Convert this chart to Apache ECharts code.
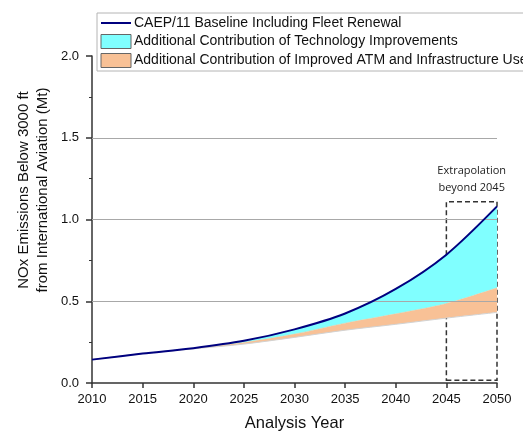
<!DOCTYPE html>
<html>
<head>
<meta charset="utf-8">
<script src="https://cdn.jsdelivr.net/npm/echarts@6/dist/echarts.min.js"></script>
<style>
  html, body { margin: 0; padding: 0; background: #fff; }
  #chart { width: 523px; height: 431px; }
</style>
</head>
<body>
<div id="chart"></div>
<script>
// Analysis years (5-year steps)
const years = ['2010', '2015', '2020', '2025', '2030', '2035', '2040', '2045', '2050'];
// NOx below 3000 ft, Mt
const baseline = [0.143, 0.180, 0.213, 0.258, 0.328, 0.425, 0.575, 0.785, 1.080];
const withTechnology = [0.143, 0.180, 0.212, 0.248, 0.299, 0.366, 0.423, 0.486, 0.582];
const withTechAndATM = [0.143, 0.180, 0.209, 0.238, 0.279, 0.323, 0.359, 0.397, 0.432];
// Extrapolation window
const extrapStart = '2045', extrapEnd = '2050';
const extrapLow = 0.017, extrapHigh = 1.108;
const gridValues = [0.5, 1.0, 1.5];

const names = [
  'CAEP/11 Baseline Including Fleet Renewal',
  'Additional Contribution of Technology Improvements',
  'Additional Contribution of Improved ATM and Infrastructure Use'
];

const diff = (a, b) => a.map((v, i) => +(v - b[i]).toFixed(4));

const chart = echarts.init(document.getElementById('chart'), null, { renderer: 'canvas' });
const font = 'Arial, "Liberation Sans", sans-serif';

chart.setOption({
  animation: false,
  backgroundColor: '#fff',
  grid: { left: 92, right: 26, top: 56, bottom: 48, outerBoundsMode: 'none', containLabel: false },
  legend: {
    orient: 'vertical',
    left: 97, top: 13,
    padding: [3, 8, 3, 3],
    itemGap: 4,
    itemWidth: 30, itemHeight: 14,
    borderColor: '#b4b4b4', borderWidth: 1,
    backgroundColor: '#fff',
    textStyle: { fontFamily: font, fontSize: 14, color: '#111', padding: [0, 0, 0, -2] },
    data: [
      { name: names[0], itemStyle: { opacity: 0 } },
      { name: names[1], icon: 'rect', itemStyle: { color: '#80ffff', borderColor: '#666', borderWidth: 1 } },
      { name: names[2], icon: 'rect', itemStyle: { color: '#f8c196', borderColor: '#666', borderWidth: 1 } }
    ]
  },
  graphic: [{
    type: 'text',
    x: 33, y: 190, rotation: Math.PI / 2,
    style: {
      text: 'NOx Emissions Below 3000 ft\nfrom International Aviation (Mt)',
      fontFamily: font, fontSize: 15, lineHeight: 19, fill: '#111',
      align: 'center', verticalAlign: 'middle'
    }
  }],
  xAxis: {
    type: 'category', data: years, boundaryGap: false,
    name: 'Analysis Year', nameLocation: 'middle', nameGap: 32,
    nameTextStyle: { fontFamily: font, fontSize: 16.5, color: '#111' },
    axisLine: { lineStyle: { color: '#333', width: 1.5 } },
    axisTick: { inside: false, length: 5, alignWithLabel: true, lineStyle: { color: '#333', width: 1.5 } },
    axisLabel: { fontFamily: font, fontSize: 13, color: '#111', margin: 10 },
    splitLine: { show: false }
  },
  yAxis: {
    type: 'value', min: 0, max: 2, interval: 0.5,
    axisLine: { show: true, lineStyle: { color: '#333', width: 1.5 } },
    axisTick: { show: true, length: 6, lineStyle: { color: '#333', width: 1.5 } },
    minorTick: { show: true, splitNumber: 2, length: 3, lineStyle: { color: '#333', width: 1 } },
    axisLabel: { fontFamily: font, fontSize: 13, color: '#111', margin: 13, formatter: v => v.toFixed(1) },
    splitLine: { show: false }
  },
  series: [
    {
      // lower edge: technology + ATM scenario
      name: 'lower', type: 'line', stack: 'nox', smooth: 0.3,
      data: withTechAndATM, symbol: 'none',
      lineStyle: { color: '#d2d2d2', width: 1 }, z: 3
    },
    {
      name: names[2], type: 'line', stack: 'nox', smooth: 0.3,
      data: diff(withTechnology, withTechAndATM), symbol: 'none',
      lineStyle: { color: '#f8c196', width: 0.5 }, itemStyle: { color: '#f8c196' },
      areaStyle: { color: '#f8c196', opacity: 1 }, z: 2
    },
    {
      name: names[1], type: 'line', stack: 'nox', smooth: 0.3,
      data: diff(baseline, withTechnology), symbol: 'none',
      lineStyle: { color: '#80ffff', width: 0.5 }, itemStyle: { color: '#80ffff' },
      areaStyle: { color: '#80ffff', opacity: 1 }, z: 2
    },
    {
      name: 'grid', type: 'line', data: baseline, symbol: 'none',
      lineStyle: { width: 0, opacity: 0 }, silent: true, z: 4,
      markLine: {
        silent: true, symbol: 'none', animation: false,
        label: { show: false },
        lineStyle: { color: '#a8a8a8', width: 1, type: 'solid' },
        data: gridValues.map(v => ({ yAxis: v }))
      }
    },
    {
      name: names[0], type: 'line', smooth: 0.3,
      data: baseline, symbol: 'none',
      lineStyle: { color: '#00007f', width: 2 }, itemStyle: { color: '#00007f' }, z: 6,
      markArea: {
        silent: true,
        itemStyle: { color: 'rgba(0,0,0,0)', borderColor: '#333', borderWidth: 1.5, borderType: [5, 3] },
        label: {
          show: true, position: 'top', distance: 5,
          formatter: 'Extrapolation\nbeyond 2045',
          fontFamily: '"Open Sans", "DejaVu Sans", sans-serif', fontSize: 11, lineHeight: 17, color: '#222'
        },
        data: [[{ xAxis: extrapStart, yAxis: extrapLow }, { xAxis: extrapEnd, yAxis: extrapHigh }]]
      }
    }
  ]
});
</script>
</body>
</html>
